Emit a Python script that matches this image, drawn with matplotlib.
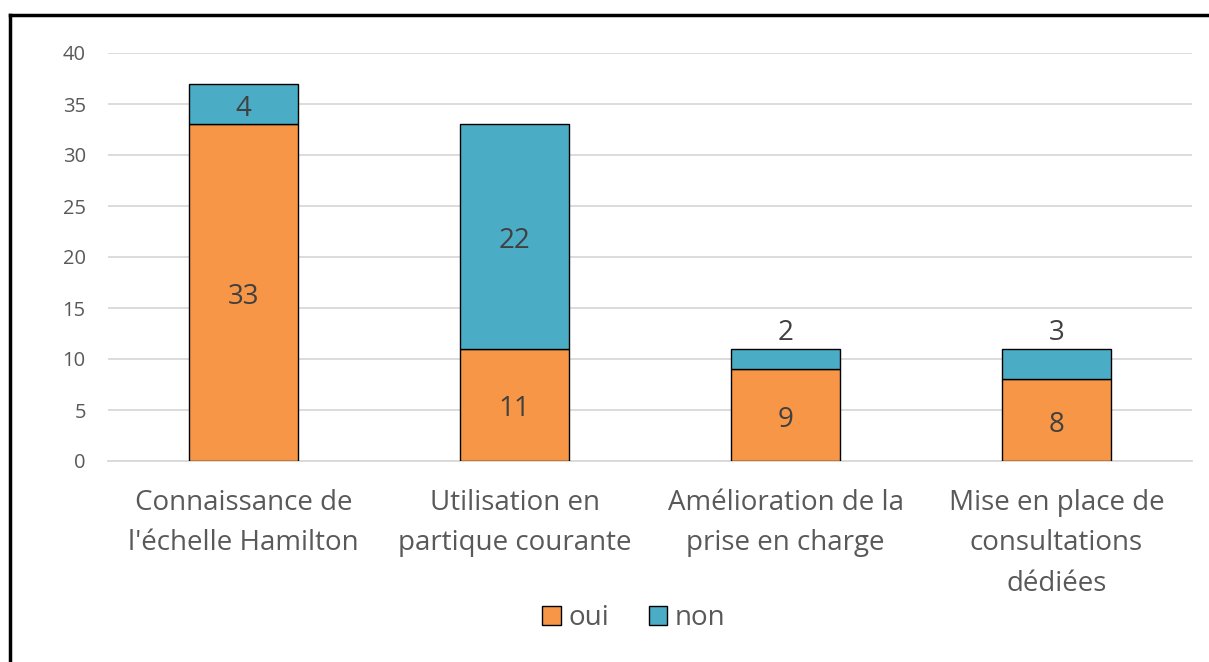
import matplotlib
matplotlib.use("Agg")
import matplotlib.pyplot as plt
from matplotlib.lines import Line2D
from matplotlib.patches import Patch
import numpy as np

categories = ["Connaissance de\nl'échelle Hamilton", "Utilisation en\npartique courante",
              "Amélioration de la\nprise en charge", "Mise en place de\nconsultations\ndédiées"]
oui = [33, 11, 9, 8]
non = [4, 22, 2, 3]
yticks = [0, 5, 10, 15, 20, 25, 30, 35, 40]

c_oui = "#F79646"
c_non = "#4BACC6"
txt = "#595959"
lbl = "#404040"

plt.rcParams['font.family'] = ['Open Sans', 'DejaVu Sans']

fig = plt.figure(figsize=(12.09, 6.62), dpi=100)
ax = fig.add_axes([108/1209, 1-461/662, (1192-108)/1209, (461-53)/662])

x = np.arange(len(categories))
ax.bar(x, oui, width=0.4, color=c_oui, edgecolor="black", linewidth=1, zorder=3)
ax.bar(x, non, width=0.4, bottom=oui, color=c_non, edgecolor="black", linewidth=1, zorder=3)

for i in range(len(categories)):
    ax.text(x[i], oui[i]/2 - 0.45, str(oui[i]), ha="center", va="center", fontsize=20, color=lbl, zorder=4)
    if non[i] >= 4:
        ax.text(x[i], oui[i] + non[i]/2 - 0.45, str(non[i]), ha="center", va="center", fontsize=20, color=lbl, zorder=4)
    else:
        ax.text(x[i], oui[i] + non[i] + 0.2, str(non[i]), ha="center", va="bottom", fontsize=20, color=lbl, zorder=4)

ax.set_xlim(-0.5, len(categories) - 0.5)
ax.set_ylim(0, 40)
ax.set_yticks(yticks)
ax.yaxis.grid(True, color="#D9D9D9", linewidth=1.3, zorder=0)
ax.set_axisbelow(True)
for s in ["top", "right", "left"]:
    ax.spines[s].set_visible(False)
ax.spines["bottom"].set_color("#D9D9D9")
ax.spines["bottom"].set_linewidth(1.3)
ax.tick_params(axis="y", length=0, labelsize=14.5, labelcolor=txt, pad=16)
ax.tick_params(axis="x", length=0, labelsize=20, labelcolor=txt, pad=20)
ax.set_xticks(x)
ax.set_xticklabels(categories, linespacing=1.6)

handles = [Patch(facecolor=c_oui, edgecolor="black", label="oui"),
           Patch(facecolor=c_non, edgecolor="black", label="non")]
fig.legend(handles=handles, loc="center", bbox_to_anchor=(634/1209, 1-618/662), ncol=2,
           frameon=False, fontsize=20, labelcolor=txt, handlelength=0.65, handleheight=0.65,
           handletextpad=0.3, columnspacing=1.4)

fig.add_artist(Line2D([10/1209, 10/1209], [0, 1-15/662], color="black", linewidth=2.5, transform=fig.transFigure))
fig.add_artist(Line2D([10/1209, 1], [1-15/662, 1-15/662], color="black", linewidth=2.5, transform=fig.transFigure))

fig.savefig("out.png", dpi=100)
